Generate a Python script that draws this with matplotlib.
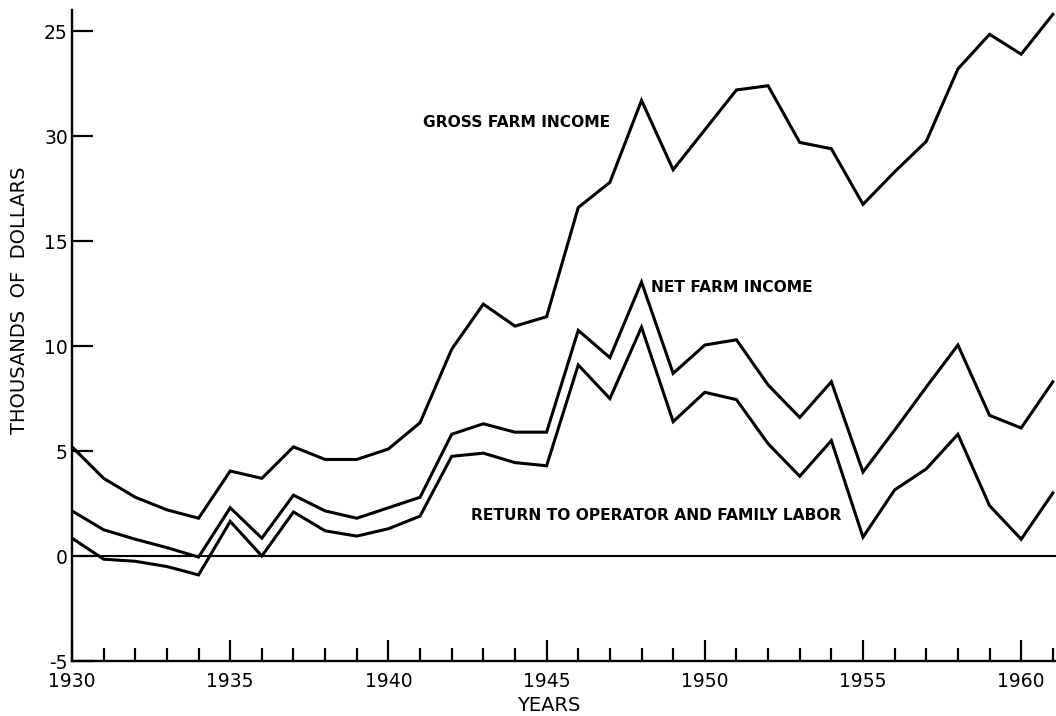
import matplotlib
matplotlib.use("Agg")
import matplotlib.pyplot as plt
from matplotlib.ticker import MultipleLocator

# values, thousands of dollars
years = list(range(1930, 1962))
gross_income = [5.2, 3.7, 2.8, 2.2, 1.8, 4.05, 3.7, 5.2, 4.6, 4.6,
                5.1, 6.35, 9.85, 12.0, 10.95, 11.4, 16.6, 17.8, 21.7, 18.4,
                20.3, 22.2, 22.4, 19.7, 19.4, 16.75, 18.3, 19.75, 23.2, 24.85,
                23.9, 25.8]
net_income = [2.15, 1.25, 0.8, 0.4, -0.05, 2.3, 0.85, 2.9, 2.15, 1.8,
              2.3, 2.8, 5.8, 6.3, 5.9, 5.9, 10.75, 9.45, 13.05, 8.7,
              10.05, 10.3, 8.15, 6.6, 8.3, 4.0, 6.0, 8.05, 10.05, 6.7,
              6.1, 8.3]
operator_return = [0.85, -0.15, -0.25, -0.5, -0.9, 1.65, 0.0, 2.1, 1.2, 0.95,
                   1.3, 1.9, 4.75, 4.9, 4.45, 4.3, 9.1, 7.5, 10.9, 6.4,
                   7.8, 7.45, 5.35, 3.8, 5.5, 0.9, 3.15, 4.15, 5.8, 2.4,
                   0.8, 3.0]

ytick_vals = [-5, 0, 5, 10, 15, 20, 25]
ytick_labels = ["-5", "0", "5", "10", "15", "30", "25"]  # as printed on the scan
xtick_vals = [1930, 1935, 1940, 1945, 1950, 1955, 1960]

fig = plt.figure(figsize=(10.56, 7.16), dpi=100)
ax = fig.add_axes([0.0682, 0.0768, 0.9318, 0.909])

lw = 2.2
ax.plot(years, gross_income, color="black", lw=lw, solid_joinstyle="miter")
ax.plot(years, net_income, color="black", lw=lw, solid_joinstyle="miter")
ax.plot(years, operator_return, color="black", lw=lw, solid_joinstyle="miter")
ax.axhline(0, color="black", lw=1.5)

ax.set_xlim(1930, 1961.1)
ax.set_ylim(-5, 26)

for side in ["top", "right"]:
    ax.spines[side].set_visible(False)
for side in ["left", "bottom"]:
    ax.spines[side].set_linewidth(1.7)

ax.set_yticks(ytick_vals)
ax.set_yticklabels(ytick_labels)
ax.set_xticks(xtick_vals)
ax.xaxis.set_minor_locator(MultipleLocator(1))
ax.tick_params(axis="y", direction="in", length=15, width=1.6, labelsize=13.5, pad=3)
ax.tick_params(axis="x", which="major", direction="in", length=15, width=1.6,
               labelsize=13.5, pad=8)
ax.tick_params(axis="x", which="minor", direction="in", length=9.5, width=1.6)

lab = dict(fontsize=11.2, fontweight="bold", va="center", ha="left")
ax.text(1941.1, 20.65, "GROSS FARM INCOME", **lab)
ax.text(1948.3, 12.8, "NET FARM INCOME", **lab)
ax.text(1942.6, 1.95, "RETURN TO OPERATOR AND FAMILY LABOR", **lab)

fig.text(0.0185, 0.581, "THOUSANDS  OF  DOLLARS", rotation=90, fontsize=14,
         ha="center", va="center")
fig.text(0.52, 0.015, "YEARS", fontsize=14, ha="center", va="center")

fig.savefig("out.png", dpi=100)
